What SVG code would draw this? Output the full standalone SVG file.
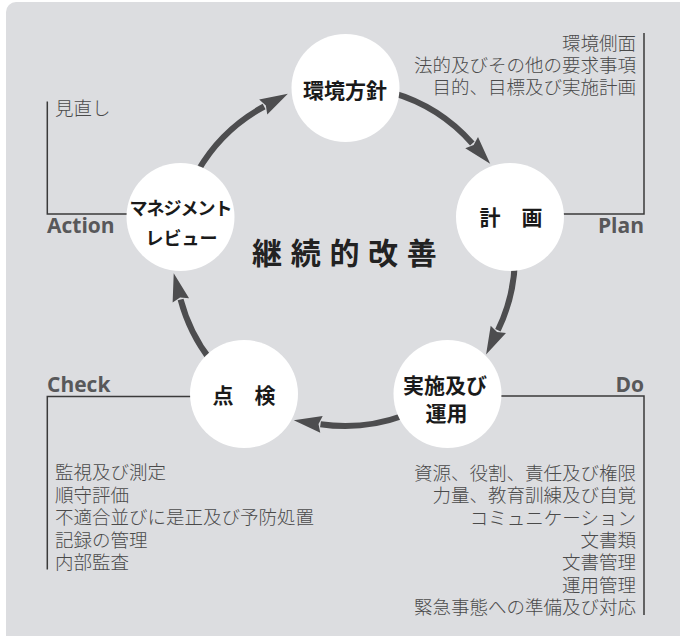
<svg xmlns="http://www.w3.org/2000/svg" width="680" height="636" viewBox="0 0 680 636">
<style>
.bg{fill:#dcdde0}
.node{fill:#ffffff}
.nl{font-family:"Noto Sans CJK JP","Noto Sans",sans-serif;font-weight:700;font-size:21px;fill:#1a1a1a;text-anchor:middle}
.arc{fill:none;stroke:#4d4d4f;stroke-width:6}
.br{fill:none;stroke:#3a3a3a;stroke-width:1.5}
.ph{font-family:"Open Sans","Lato",sans-serif;font-weight:700;font-size:21px;fill:#58585a}
.li{font-family:"Noto Sans CJK JP","Noto Sans",sans-serif;font-weight:300;font-size:18.5px;fill:#4a4a4a}
.end{text-anchor:end}
.title{font-family:"Noto Sans CJK JP",sans-serif;font-weight:700;font-size:30px;fill:#222;letter-spacing:8.7px}
</style>
<defs>
<marker id="ah" markerUnits="userSpaceOnUse" markerWidth="30" markerHeight="20" refX="1" refY="10" orient="auto" overflow="visible">
<path d="M0,1.5 L28,10 L0,18.5 L3,10 z" fill="#4d4d4f"/>
</marker>
</defs>
<rect class="bg" x="6" y="2" width="700" height="660" rx="10"/>

<g id="brackets">
<path class="br" d="M47.3,101.5 V214 H150"/>
<path class="br" d="M644,33 V214 H540"/>
<path class="br" d="M47.3,569.5 V396.5 H220"/>
<path class="br" d="M644,615 V396 H470"/>
</g>

<g id="connectors">
<path class="arc" d="M391.9,92.6 A170,170 0 0 1 472.3,143.4" marker-end="url(#ah)"/>
<path class="arc" d="M514.9,261.9 A170,170 0 0 1 497.9,330.3" marker-end="url(#ah)"/>
<path class="arc" d="M403.1,415.7 A170,170 0 0 1 320.5,424.2" marker-end="url(#ah)"/>
<path class="arc" d="M211.0,360.7 A170,170 0 0 1 180.6,299.4" marker-end="url(#ah)"/>
<path class="arc" d="M197.8,171 A170,170 0 0 1 264.1,106.5" marker-end="url(#ah)"/>
</g>

<g id="node-env">
<circle class="node" cx="345.5" cy="88" r="54"/>
<text class="nl" x="345" y="98">環境方針</text>
</g>
<g id="node-plan">
<circle class="node" cx="510" cy="217" r="54"/>
<text class="nl" x="511" y="225">計　画</text>
</g>
<g id="node-do">
<circle class="node" cx="447.5" cy="394" r="54"/>
<text class="nl" x="445" y="393">実施及び</text>
<text class="nl" x="446.5" y="421">運用</text>
</g>
<g id="node-check">
<circle class="node" cx="244" cy="394" r="54"/>
<text class="nl" x="244" y="403">点　検</text>
</g>
<g id="node-review">
<circle class="node" cx="180.5" cy="217" r="54"/>
<text class="nl" x="180.5" y="215" style="font-size:18px;letter-spacing:-1px">マネジメント</text>
<text class="nl" x="181.5" y="245" style="font-size:18px">レビュー</text>
</g>

<text class="title" x="252" y="263.5">継続的改善</text>

<g id="phase-action">
<text class="li" x="55" y="115">見直し</text>
<text class="ph" x="47" y="233">Action</text>
</g>
<g id="phase-plan">
<text class="li end" x="636" y="49.5">環境側面</text>
<text class="li end" x="636" y="71.5">法的及びその他の要求事項</text>
<text class="li end" x="636" y="94">目的、目標及び実施計画</text>
<text class="ph end" x="644" y="233">Plan</text>
</g>
<g id="phase-check">
<text class="ph" x="47" y="392">Check</text>
<text class="li" x="55" y="479">監視及び測定</text>
<text class="li" x="55" y="501.5">順守評価</text>
<text class="li" x="55" y="524">不適合並びに是正及び予防処置</text>
<text class="li" x="55" y="546.5">記録の管理</text>
<text class="li" x="55" y="569">内部監査</text>
</g>
<g id="phase-do">
<text class="ph end" x="644" y="392">Do</text>
<text class="li end" x="636" y="480">資源、役割、責任及び権限</text>
<text class="li end" x="636" y="502">力量、教育訓練及び自覚</text>
<text class="li end" x="636" y="524.5">コミュニケーション</text>
<text class="li end" x="636" y="547">文書類</text>
<text class="li end" x="636" y="569">文書管理</text>
<text class="li end" x="636" y="591.5">運用管理</text>
<text class="li end" x="636" y="614">緊急事態への準備及び対応</text>
</g>
</svg>
